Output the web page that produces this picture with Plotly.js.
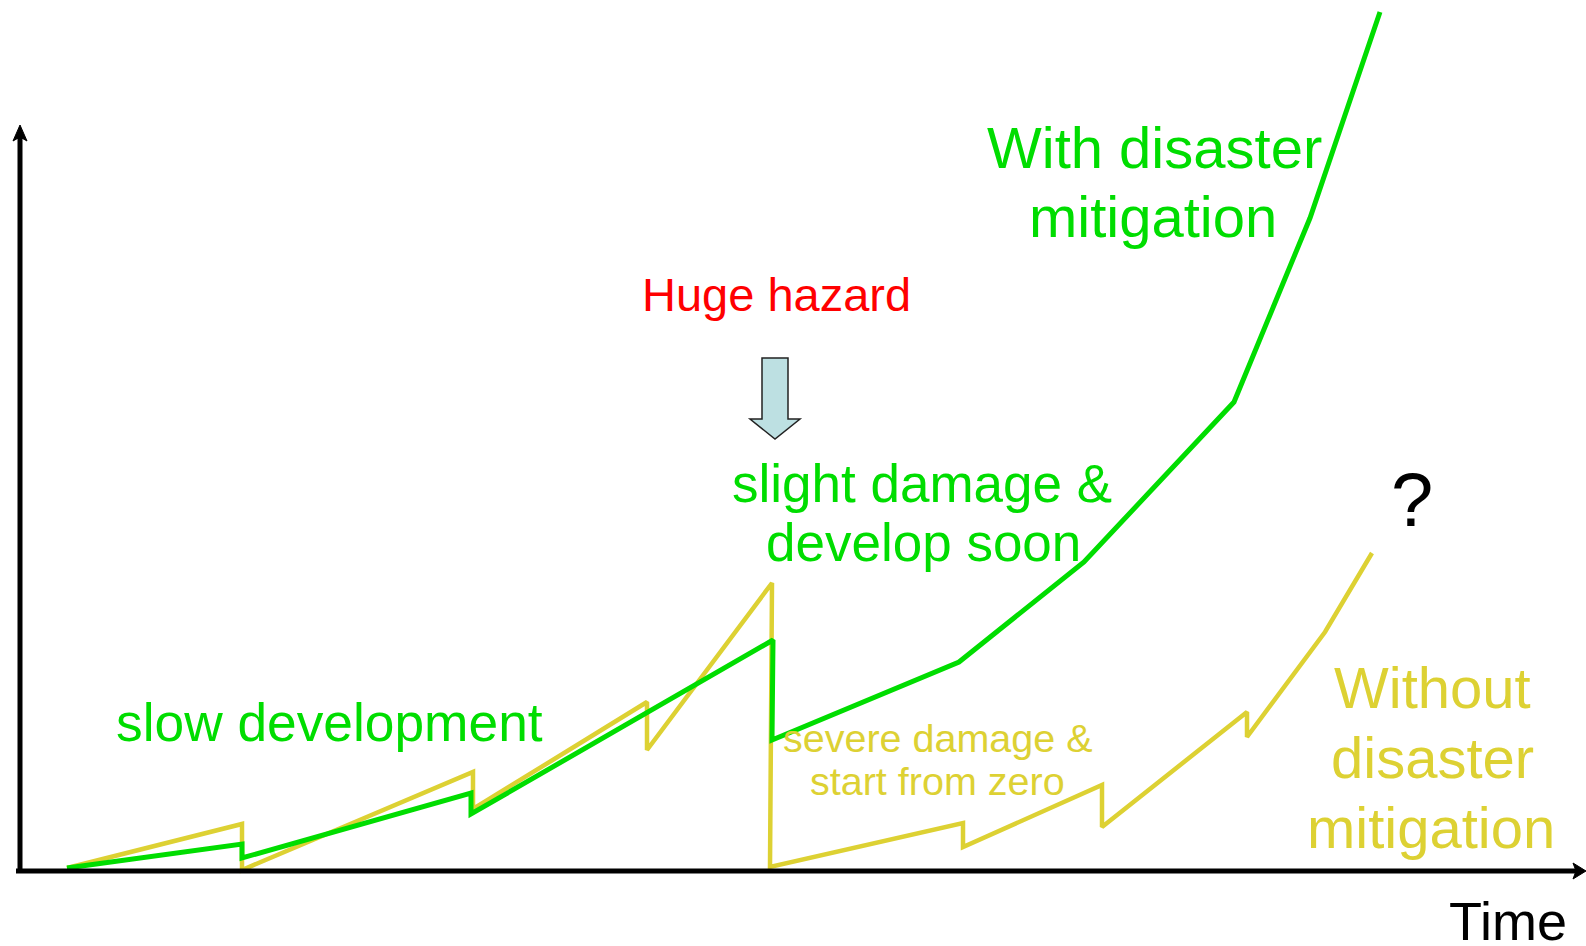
<!DOCTYPE html>
<html>
<head>
<meta charset="utf-8">
<script src="https://cdn.plot.ly/plotly-3.0.1.min.js"></script>
<style>html,body{margin:0;padding:0;background:#fff;}#chart{width:1586px;height:946px;}</style>
</head>
<body>
<div id="chart"></div>
<script>
// Development over time (schematic). x = time, y = development level.
const withTime  = [47, 222, 222, 451, 451, 753, 752, 939, 1064, 1214, 1290, 1360];
const withLevel = [4, 28, 14, 79, 58, 232, 132, 210, 310, 470, 654, 860];

const withoutTime  = [47, 222, 222, 453, 453, 627, 627, 752, 750, 943, 943, 1082, 1082, 1227, 1227, 1305, 1352];
const withoutLevel = [4, 48, 2, 100, 63, 170, 122, 289, 5, 49, 25, 87, 45, 160, 135, 240, 319];

const labelTexts = ["With disaster", "mitigation", "Huge hazard", "slight damage &", "develop soon",
                    "slow development", "severe damage &", "start from zero",
                    "Without", "disaster", "mitigation", "?", "Time"];

const GREEN = "#00DD00", YELLOW = "#DDD133", RED = "#FF0000", BLACK = "#000000";
const FONT = "Liberation Sans, Arial, sans-serif";

const traces = [
  {x: withoutTime, y: withoutLevel, mode: "lines", line: {color: YELLOW, width: 4.5}, hoverinfo: "skip"},
  {x: withTime, y: withLevel, mode: "lines", line: {color: GREEN, width: 5}, hoverinfo: "skip"}
];

// label layout: [x, y, size, color]
const labelPos = [
  [1134, 725, 58, GREEN],
  [1133, 656, 58, GREEN],
  [756, 578, 47, RED],
  [902, 389, 53, GREEN],
  [903, 330, 53, GREEN],
  [309, 150, 53.3, GREEN],
  [918, 134, 39.5, YELLOW],
  [917, 91, 39.5, YELLOW],
  [1412, 185, 58, YELLOW],
  [1412, 115, 58, YELLOW],
  [1411, 45, 58, YELLOW],
  [1392, 373, 76, BLACK],
  [1488, -49, 54, BLACK]
];

const annotations = labelTexts.map((t, i) => ({
  x: labelPos[i][0], y: labelPos[i][1], xref: "x", yref: "y",
  text: t, showarrow: false, xanchor: "center", yanchor: "middle",
  font: {family: FONT, size: labelPos[i][2], color: labelPos[i][3]}
}));

const shapes = [
  // x axis
  {type: "line", xref: "x", yref: "y", x0: -4, y0: 1, x1: 1558, y1: 1, line: {color: BLACK, width: 5}},
  {type: "path", xref: "x", yref: "y", path: "M 1566 1 L 1553 9 L 1556 1 L 1553 -7 Z", fillcolor: BLACK, line: {color: BLACK, width: 1}},
  // y axis
  {type: "line", xref: "x", yref: "y", x0: 0, y0: -1, x1: 0, y1: 738, line: {color: BLACK, width: 5}},
  {type: "path", xref: "x", yref: "y", path: "M 0 747 L -7 731 L 0 735 L 7 731 Z", fillcolor: BLACK, line: {color: BLACK, width: 1}},
  // hazard arrow
  {type: "path", xref: "x", yref: "y",
   path: "M 742 514 L 768 514 L 768 453 L 780 453 L 755 433 L 730 453 L 742 453 Z",
   fillcolor: "#BDE0E2", line: {color: "#222222", width: 1.5}}
];

const layout = {
  width: 1586, height: 946,
  margin: {l: 0, r: 0, t: 0, b: 0, pad: 0},
  paper_bgcolor: "#FFFFFF", plot_bgcolor: "#FFFFFF",
  showlegend: false,
  xaxis: {range: [-20, 1566], visible: false, fixedrange: true},
  yaxis: {range: [-74, 872], visible: false, fixedrange: true},
  annotations: annotations,
  shapes: shapes
};

Plotly.newPlot("chart", traces, layout, {staticPlot: true, displayModeBar: false});
</script>
</body>
</html>
